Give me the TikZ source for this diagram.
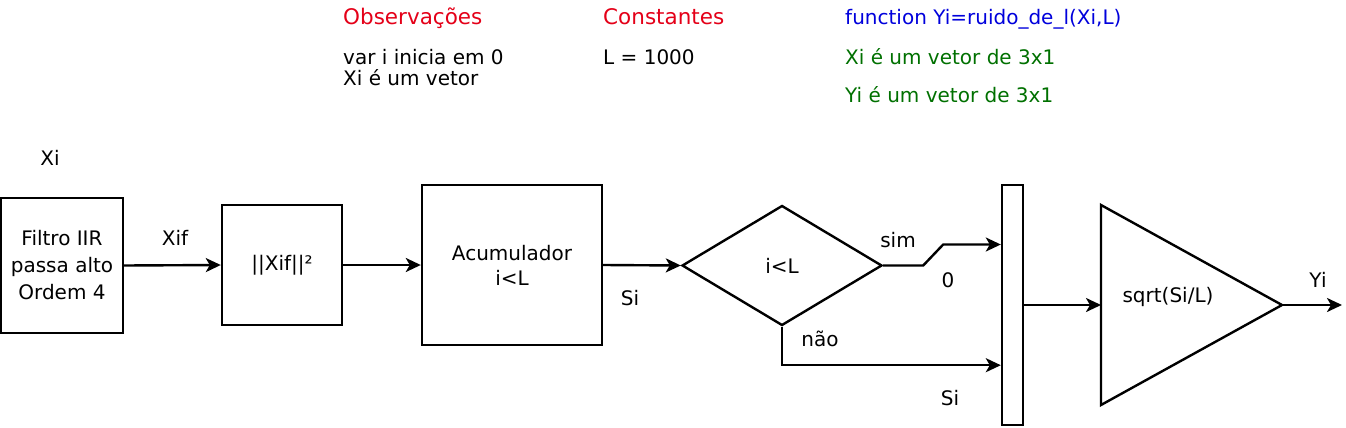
\documentclass[tikz,border=0pt]{standalone}
\usepackage{fontspec}
\setmainfont{DejaVu Sans}
\usetikzlibrary{shapes.geometric,arrows.meta}
\definecolor{titred}{RGB}{228,0,24}
\definecolor{fnblue}{RGB}{0,0,220}
\definecolor{fngreen}{RGB}{0,112,0}
\begin{document}
\begin{tikzpicture}[x=1pt,y=-1pt,
  every node/.style={font=\fontsize{20}{25}\selectfont, inner sep=0pt},
  blk/.style={draw, line width=2.4pt, align=center},
  titl/.style={anchor=base west, font=\fontsize{21.5}{25}\selectfont, text=titred},
  note/.style={anchor=base west},
  wire/.style={line width=2.4pt, -{Stealth[length=15pt,width=14pt,inset=4pt]}},
  plain/.style={line width=2.4pt}]
\useasboundingbox (0,0) rectangle (1346,428);

% top notes
\node[titl] (tobs) at (343,25) {Observações};
\node[note] (n1) at (343,64) {var i inicia em 0};
\node[note] (n2) at (343,85) {Xi é um vetor};
\node[titl] (tcons) at (603,25) {Constantes};
\node[note] (n3) at (603,65) {L = 1000};
\node[note, text=fnblue] (fn) at (845,25) {function Yi=ruido\_de\_l(Xi,L)};
\node[note, text=fngreen] (g1) at (845,65) {Xi é um vetor de 3x1};
\node[note, text=fngreen] (g2) at (845,102) {Yi é um vetor de 3x1};

% blocks
\node[blk, minimum width=122pt, minimum height=135pt, font=\fontsize{20}{27}\selectfont] (filt) at (62,265.5) {Filtro IIR\\passa alto\\Ordem 4};
\node[blk, minimum width=120pt, minimum height=120pt] (sq) at (282,265) {||Xif||²};
\node[blk, minimum width=180pt, minimum height=160pt] (acc) at (512,265) {Acumulador\\i<L};
\node[draw, line width=2.4pt, diamond, minimum width=200pt, minimum height=120pt] (dia) at (782,265.5) {i<L};
\node[draw, line width=2.4pt, minimum width=21pt, minimum height=240pt] (mux) at (1012.5,305) {};
\draw[plain, line join=miter] (1101,205) -- (1282,305) -- (1101,405) -- cycle;
\coordinate (triin) at (1101,305);
\coordinate (triout) at (1282,305);
\node (tri) at (1168,297) {sqrt(Si/L)};
\coordinate (yout) at (1342,305);

% labels
\node (xi) at (50,158) {Xi};
\node (xif) at (175,238) {Xif};
\node (si1) at (630,298) {Si};
\node (sim) at (898,240) {sim};
\node (zero) at (948,280) {0};
\node (nao) at (820,339) {não};
\node (si2) at (950,398) {Si};
\node (yi) at (1318,280) {Yi};

% connectors
\draw[wire] (filt.east) -- (sq.west);
\draw[wire] (sq.east) -- (acc.west);
\draw[wire] (acc.east) -- (dia.west);
\draw[wire] (dia.east) -- ++(40,0) -- ++(20,-21) coordinate (k) -- (k -| mux.west);
\draw[wire] (dia.south) -- ++(0,38.5) coordinate (n) -- (n -| mux.west);
\draw[wire] (mux.east) -- (triin);
\draw[wire] (triout) -- (yout);
\end{tikzpicture}
\end{document}
